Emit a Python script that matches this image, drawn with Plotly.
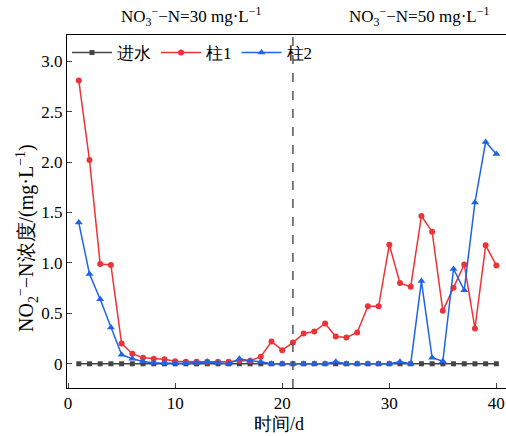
import plotly.graph_objects as go

# Sampling days
days = list(range(1, 41))

# NO2--N concentration (mg/L) of influent and the two columns
influent = [0.0] * 40
column1 = [2.81, 2.02, 0.99, 0.98, 0.20, 0.10, 0.06, 0.05, 0.045, 0.025,
           0.02, 0.02, 0.02, 0.02, 0.02, 0.03, 0.03, 0.07, 0.22, 0.135,
           0.21, 0.30, 0.32, 0.40, 0.27, 0.26, 0.31, 0.57, 0.57, 1.18,
           0.80, 0.765, 1.465, 1.31, 0.525, 0.755, 0.985, 0.35, 1.175, 0.975]
column2 = [1.40, 0.89, 0.64, 0.36, 0.09, 0.05, 0.023, 0.01, 0.005, 0.005,
           0.005, 0.01, 0.02, 0.01, 0.0, 0.05, 0.03, 0.02, 0.0, 0.0,
           0.0, 0.0, 0.0, 0.0, 0.02, 0.0, 0.0, 0.0, 0.0, 0.0,
           0.02, 0.0, 0.82, 0.06, 0.025, 0.94, 0.73, 1.60, 2.20, 2.08]

series_names = ["进水", "柱1", "柱2"]
x_ticks = [0, 10, 20, 30, 40]
y_ticks = [0, 0.5, 1.0, 1.5, 2.0, 2.5, 3.0]
y_tick_text = ["0", "0.5", "1.0", "1.5", "2.0", "2.5", "3.0"]
split_day = 21
phase_labels = ["NO<sub>3</sub><sup>−</sup>−N=30 mg·L<sup>−1</sup>",
                "NO<sub>3</sub><sup>−</sup>−N=50 mg·L<sup>−1</sup>"]
x_title = "时间/d"
y_title = "NO<sub>2</sub><sup>−</sup>−N浓度/(mg·L<sup>−1</sup>)"

FONT = "Liberation Serif"

PLOT_L, PLOT_W = 67, 439
PLOT_T, PLOT_H = 35, 353


def px_x(px):
    return (px - PLOT_L) / PLOT_W


def px_y(py):
    return (PLOT_T + PLOT_H - py) / PLOT_H


fig = go.Figure()
styles = [
    ("#444444", "square", 5),
    ("#ee3338", "circle", 6),
    ("#1f63e6", "triangle-up", 7),
]
for name, ys, (col, sym, sz) in zip(series_names, [influent, column1, column2], styles):
    fig.add_trace(go.Scatter(
        x=days, y=ys, name=name, mode="lines+markers",
        line=dict(color=col, width=1.5),
        marker=dict(color=col, symbol=sym, size=sz),
    ))

# Boundary between the two influent nitrate phases
fig.add_shape(type="line", x0=split_day, x1=split_day, y0=0, y1=1,
              xref="x", yref="paper",
              line=dict(color="#555555", width=1.5, dash="dash"))

# Phase labels above the plot area
for label, cx in zip(phase_labels, [191, 419]):
    fig.add_annotation(x=px_x(cx), y=1, xref="paper", yref="paper",
                       xanchor="center", yanchor="bottom", yshift=4,
                       text=label, showarrow=False,
                       font=dict(size=17, family=FONT))

# Axis titles
fig.add_annotation(x=px_x(27), y=px_y(238), xref="paper", yref="paper",
                   text=y_title, textangle=-90, showarrow=False,
                   xanchor="center", yanchor="middle",
                   font=dict(size=20, family=FONT))
fig.add_annotation(x=px_x(279), y=px_y(424), xref="paper", yref="paper",
                   text=x_title, showarrow=False,
                   xanchor="center", yanchor="middle",
                   font=dict(size=18, family=FONT))

fig.update_layout(
    width=506, height=436,
    margin=dict(l=PLOT_L, r=0, t=PLOT_T, b=436 - PLOT_T - PLOT_H),
    paper_bgcolor="white", plot_bgcolor="white",
    font=dict(family=FONT, size=17, color="black"),
    showlegend=True,
    legend=dict(orientation="h", x=0.0, y=1.0, xanchor="left", yanchor="top",
                bgcolor="rgba(0,0,0,0)", font=dict(size=17, family=FONT),
                itemwidth=40, tracegroupgap=0),
    xaxis=dict(range=[-0.1, 40.9], tickvals=x_ticks, ticks="inside", ticklen=5,
               showline=True, linecolor="black", linewidth=1, mirror=True,
               showgrid=False, zeroline=False),
    yaxis=dict(range=[-0.24, 3.26], tickvals=y_ticks, ticktext=y_tick_text,
               ticks="inside", ticklen=5,
               showline=True, linecolor="black", linewidth=1,
               showgrid=False, zeroline=False),
)

fig.write_html("out.html")
